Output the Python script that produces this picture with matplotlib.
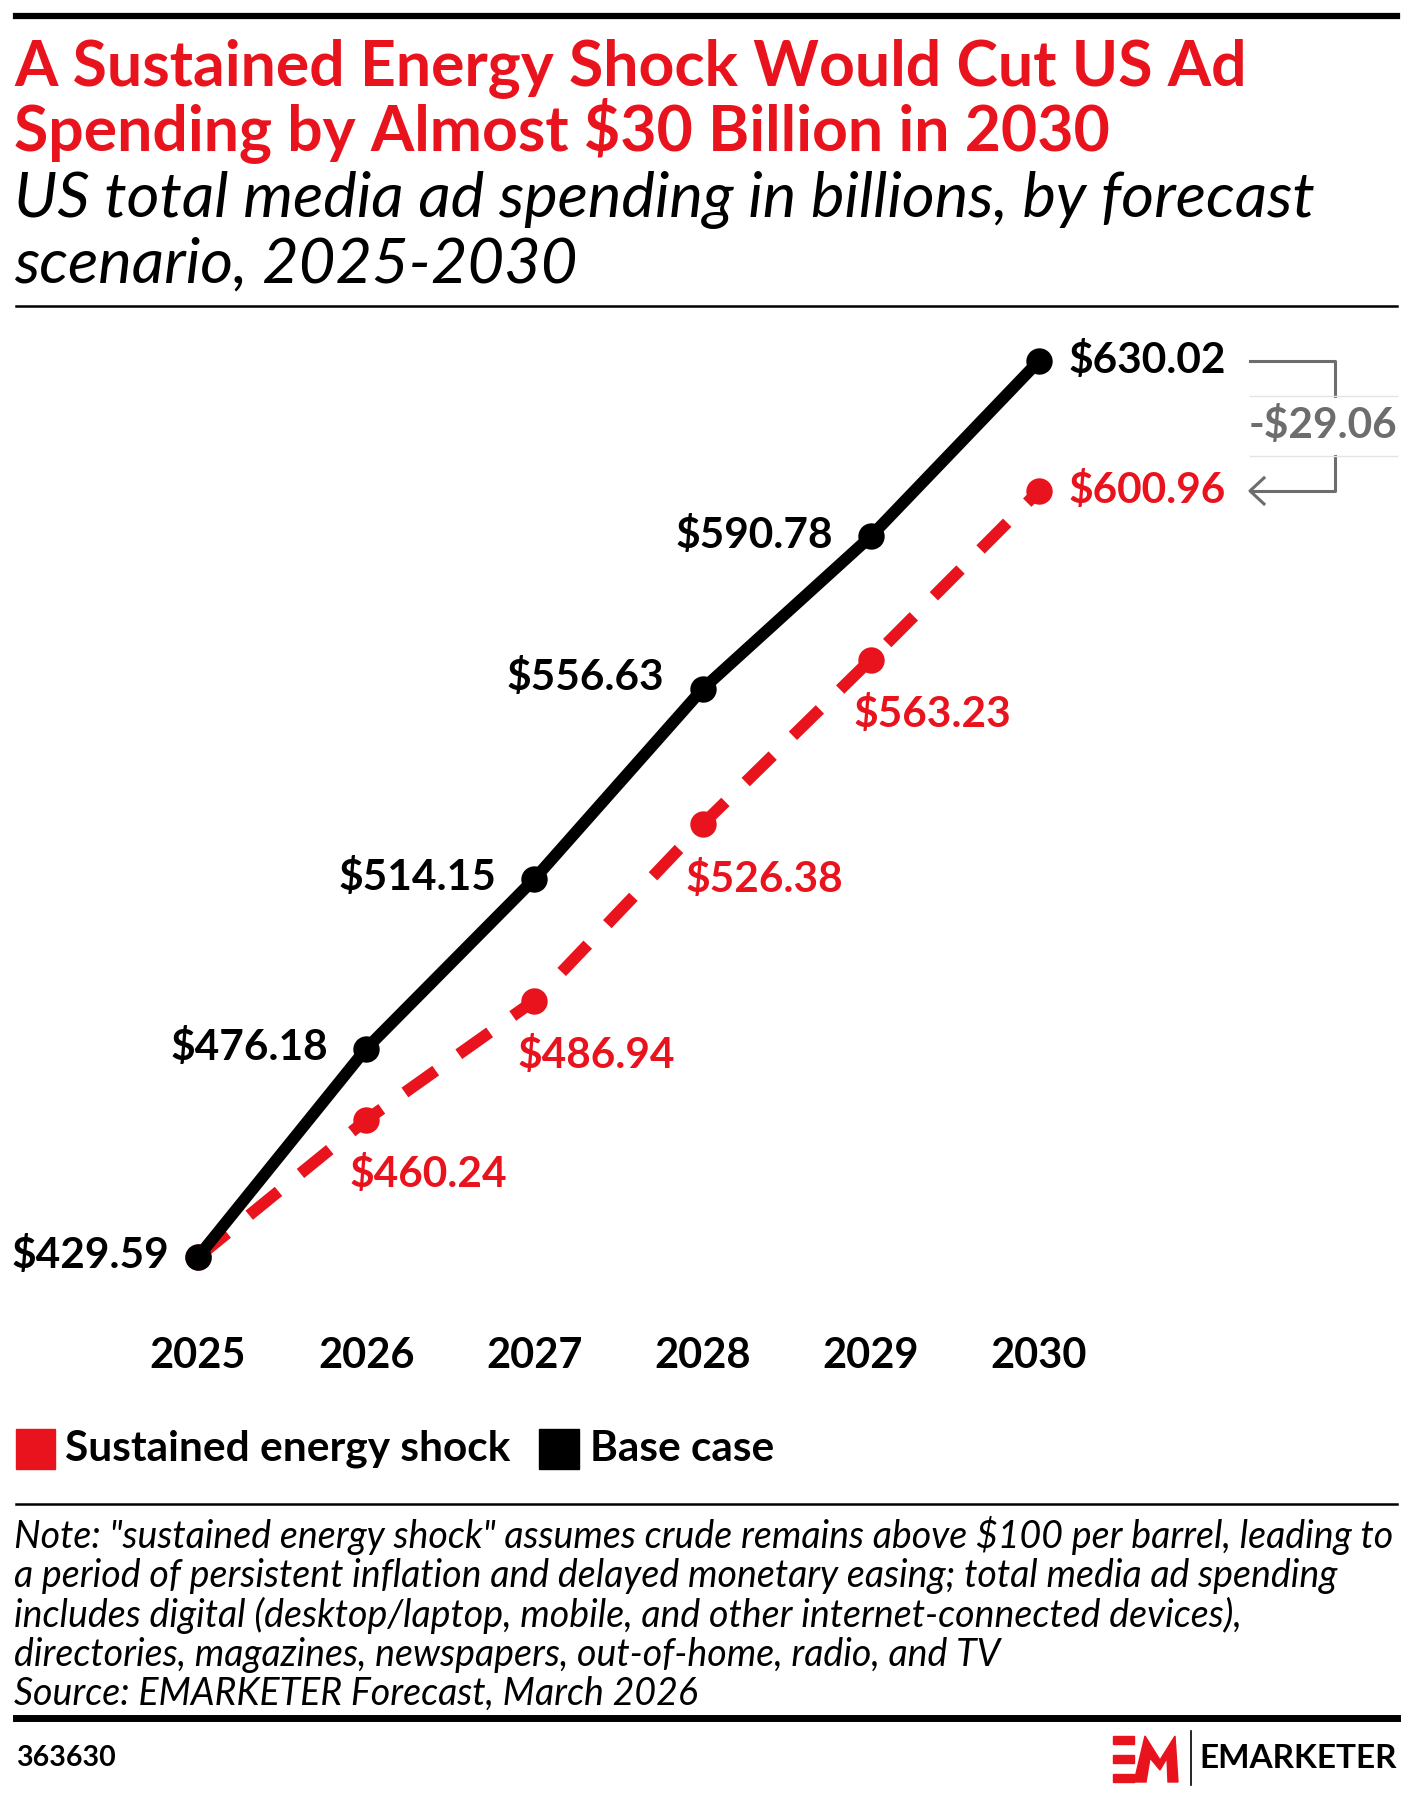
import matplotlib
matplotlib.use("Agg")
import matplotlib.pyplot as plt
from matplotlib.patches import Rectangle, Polygon
from matplotlib.lines import Line2D

years = [2025, 2026, 2027, 2028, 2029, 2030]
base_case = [429.59, 476.18, 514.15, 556.63, 590.78, 630.02]
energy_shock = [429.59, 460.24, 486.94, 526.38, 563.23, 600.96]
gap_label = "-$29.06"

title_lines = ["A Sustained Energy Shock Would Cut US Ad",
               "Spending by Almost $30 Billion in 2030"]
subtitle_lines = ["US total media ad spending in billions, by forecast",
                  "scenario, 2025-2030"]
note_lines = [
    'Note: "sustained energy shock" assumes crude remains above $100 per barrel, leading to',
    "a period of persistent inflation and delayed monetary easing; total media ad spending",
    "includes digital (desktop/laptop, mobile, and other internet-connected devices),",
    "directories, magazines, newspapers, out-of-home, radio, and TV",
    "Source: EMARKETER Forecast, March 2026",
]
chart_id = "363630"

RED = "#e8131d"
GRAY = "#6d6d6d"
FONT = "Lato"
W, H = 1413, 1803

plt.rcParams["font.family"] = [FONT, "DejaVu Sans"]
fig = plt.figure(figsize=(W / 100, H / 100), dpi=100)


def fxy(x, y):
    return x / W, 1 - y / H


def hline(y, x0, x1, lw, color="black"):
    fig.add_artist(Line2D([x0 / W, x1 / W], [1 - y / H, 1 - y / H],
                          lw=lw, color=color, transform=fig.transFigure))


# header
hline(16, 16, 1397, 4.5)
for k, line in enumerate(title_lines):
    fig.text(*fxy(14, 85 + k * 65.5), line, color=RED, fontsize=45,
             fontweight="bold", va="baseline", ha="left")
for k, line in enumerate(subtitle_lines):
    fig.text(*fxy(14, 217 + k * 65.5), line, fontsize=45.5, style="italic",
             va="baseline", ha="left")
hline(306, 16, 1397, 1.8)

# plot area: full figure width, mapped so years/values land in place
ax = fig.add_axes([0, 1 - 1300 / H, 1, (1300 - 320) / H])
ax.set_xlim(2023.823, 2032.224)
ax.set_ylim(419.97, 639.19)
for s in ax.spines.values():
    s.set_visible(False)
ax.set_yticks([])
ax.set_xticks(years)
ax.set_xticklabels([str(y) for y in years], fontsize=30, fontweight="bold")
ax.tick_params(axis="x", length=0, pad=27)
ax.patch.set_alpha(0)

ax.plot(years, energy_shock, color=RED, lw=8.5, ls=(0, (3.2, 2.4)),
        marker="o", ms=19, markeredgewidth=0, zorder=2)
ax.plot(years, base_case, color="black", lw=8.5, marker="o", ms=19,
        markeredgewidth=0, zorder=3)

for i, (yr, v) in enumerate(zip(years, base_case)):
    txt = f"${v:.2f}"
    if i == len(years) - 1:
        ax.annotate(txt, (yr, v), xytext=(30, 0), textcoords="offset pixels",
                    ha="left", va="center", fontsize=30.5, fontweight="bold")
    else:
        dy = 12 if i == 3 else 1
        dx = -29 if i == 0 else -38
        ax.annotate(txt, (yr, v), xytext=(dx, dy), textcoords="offset pixels",
                    ha="right", va="center", fontsize=30.5, fontweight="bold")

for i, (yr, v) in enumerate(zip(years, energy_shock)):
    if i == 0:
        continue
    txt = f"${v:.2f}"
    if i == len(years) - 1:
        ax.annotate(txt, (yr, v), xytext=(30, 0), textcoords="offset pixels",
                    ha="left", va="center", color=RED, fontsize=30.5,
                    fontweight="bold")
    else:
        ax.annotate(txt, (yr, v), xytext=(-17, -55), textcoords="offset pixels",
                    ha="left", va="center", color=RED, fontsize=30.5,
                    fontweight="bold")

# difference bracket
x_a, x_b = 1250, 1335
y_top = ax.transData.transform((2030, base_case[-1]))[1]
y_bot = ax.transData.transform((2030, energy_shock[-1]))[1]
y_mid = (y_top + y_bot) / 2

fig.add_artist(Line2D([x_a / W, x_b / W, x_b / W],
                      [y_top / H, y_top / H, (y_mid + 30) / H],
                      color=GRAY, lw=2.2, transform=fig.transFigure))
fig.add_artist(Line2D([x_b / W, x_b / W, (x_a + 2) / W],
                      [(y_mid - 30) / H, y_bot / H, y_bot / H],
                      color=GRAY, lw=2.2, transform=fig.transFigure))
fig.add_artist(Line2D([(x_a + 14) / W, x_a / W, (x_a + 14) / W],
                      [(y_bot + 13) / H, y_bot / H, (y_bot - 13) / H],
                      color=GRAY, lw=2.2, transform=fig.transFigure))
for yy in (y_mid + 30, y_mid - 30):
    fig.add_artist(Line2D([x_a / W, 1397 / W], [yy / H, yy / H],
                          color="#e4e4e4", lw=1, transform=fig.transFigure))
fig.text(1397 / W, y_mid / H, gap_label, color=GRAY, fontsize=30.5,
         fontweight="bold", ha="right", va="center")

# legend
fig.add_artist(Rectangle(fxy(16, 1469), 39 / W, 40 / H, color=RED,
                         transform=fig.transFigure))
fig.text(*fxy(65, 1449), "Sustained energy shock", fontsize=30.5,
         fontweight="bold", va="center")
fig.add_artist(Rectangle(fxy(539, 1469), 40 / W, 40 / H, color="black",
                         transform=fig.transFigure))
fig.text(*fxy(590, 1449), "Base case", fontsize=30.5, fontweight="bold",
         va="center")
hline(1504, 16, 1397, 1.8)

# note
for k, line in enumerate(note_lines):
    fig.text(*fxy(14, 1548 + k * 39.3), line, fontsize=27, style="italic",
             va="baseline")
hline(1718, 16, 1397, 5)

# footer
fig.text(*fxy(16, 1758), chart_id, fontsize=20.5, fontweight="bold", va="center")
for yb in (1736, 1755, 1774):
    fig.add_artist(Rectangle(fxy(1113, yb + 8), 21 / W, 8 / H, color=RED,
                             transform=fig.transFigure))
em_pts = [(1134, 1782), (1145, 1736), (1160, 1760), (1175, 1736), (1178, 1782),
          (1168, 1782), (1167, 1758), (1160, 1770), (1150, 1758), (1146, 1782)]
fig.add_artist(Polygon([fxy(x, y) for x, y in em_pts], closed=True, color=RED,
                       transform=fig.transFigure))
fig.add_artist(Line2D([1191 / W, 1191 / W], [1 - 1731 / H, 1 - 1785 / H],
                      color="black", lw=1.2, transform=fig.transFigure))
fig.text(*fxy(1397, 1759), "EMARKETER", fontsize=24, fontweight="bold",
         ha="right", va="center")

fig.savefig("out.png", dpi=100, facecolor="white")
